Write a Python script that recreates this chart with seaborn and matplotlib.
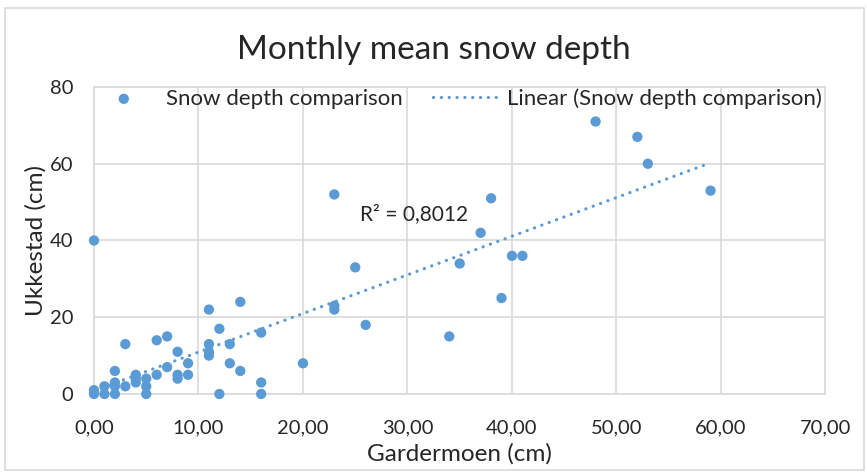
import matplotlib
matplotlib.use("Agg")
import matplotlib.pyplot as plt
import matplotlib.ticker as mticker
from matplotlib.patches import Rectangle
import seaborn as sns
import numpy as np
import pandas as pd

# monthly mean snow depth (cm)
gardermoen = [0, 0, 0, 1, 1, 2, 2, 2, 2, 3, 3, 4, 4, 4, 5, 5, 5, 6, 6, 7, 7,
              8, 8, 8, 9, 9, 11, 11, 11, 11, 12, 12, 13, 13, 14, 14, 16, 16, 16,
              20, 23, 23, 23, 25, 26, 34, 35, 37, 38, 39, 40, 41, 48, 52, 53, 59]
ukkestad = [0, 1, 40, 0, 2, 0, 2, 3, 6, 2, 13, 3, 4, 5, 0, 2, 4, 5, 14, 7, 15,
            4, 5, 11, 5, 8, 10, 11, 13, 22, 0, 17, 8, 13, 6, 24, 0, 3, 16,
            8, 22, 23, 52, 33, 18, 15, 34, 42, 51, 25, 36, 36, 71, 67, 60, 53]
r2_label = "R² = 0,8012"
x_ticks = [0, 10, 20, 30, 40, 50, 60, 70]
y_ticks = [0, 20, 40, 60, 80]

df = pd.DataFrame({"Gardermoen (cm)": gardermoen, "Ukkestad (cm)": ukkestad})

blue = "#5B9BD5"
grid = "#D9D9D9"

sns.set_style("whitegrid")
plt.rcParams["font.family"] = ["Lato", "DejaVu Sans"]

fig = plt.figure(figsize=(8.67, 4.72), dpi=100)
ax = fig.add_axes([0.1084, 0.1653, 0.8437, 0.6504])

sns.scatterplot(data=df, x="Gardermoen (cm)", y="Ukkestad (cm)", ax=ax,
                color=blue, s=55, edgecolor="none", label="Snow depth comparison",
                zorder=3, clip_on=False)

# linear trendline over the data range
slope, intercept = np.polyfit(gardermoen, ukkestad, 1)
xs = np.array([min(gardermoen), max(gardermoen)])
ax.plot(xs, slope * xs + intercept, color=blue, lw=2.3,
        linestyle=(0, (0.05, 2.4)), dash_capstyle="round",
        label="Linear (Snow depth comparison)", zorder=2)

ax.text(25.5, 47, r2_label, fontsize=15, va="center", ha="left")

ax.set_xlim(0, 70)
ax.set_ylim(0, 80)
ax.set_xticks(x_ticks)
ax.set_yticks(y_ticks)
ax.xaxis.set_major_formatter(mticker.FuncFormatter(lambda v, p: f"{v:.2f}".replace(".", ",")))
ax.tick_params(axis="x", length=0, pad=18, labelsize=14.5)
ax.tick_params(axis="y", length=0, pad=15, labelsize=14.5)
ax.grid(True, color=grid, lw=1.2)
for s in ax.spines.values():
    s.set_color(grid)
    s.set_linewidth(1.2)

ax.set_xlabel("Gardermoen (cm)", fontsize=17.5, labelpad=5)
ax.set_ylabel("Ukkestad (cm)", fontsize=17.5, labelpad=2)
fig.suptitle("Monthly mean snow depth", fontsize=24, y=0.925)

ax.legend(loc="center", bbox_to_anchor=(0.496, 0.963), ncol=2, frameon=False,
          fontsize=16, handlelength=2.9, columnspacing=1.35, handletextpad=0.45,
          borderaxespad=0)

fig.patches.append(Rectangle((0.006, 0.004), 0.99, 0.98, transform=fig.transFigure,
                             fill=False, edgecolor=grid, lw=1.2))

fig.savefig("out.png", dpi=100)
